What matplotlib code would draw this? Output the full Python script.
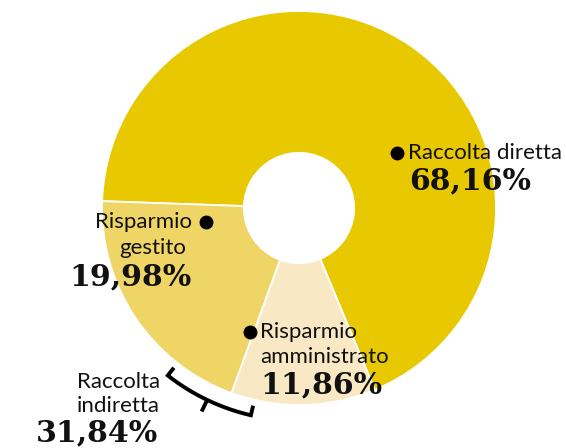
import numpy as np
import matplotlib.pyplot as plt

# composizione della raccolta (%)
labels = ['Raccolta diretta', 'Risparmio amministrato', 'Risparmio gestito']
values = [68.16, 11.86, 19.98]
colors = ['#e8c800', '#f8e9c4', '#efd466']
indiretta = values[1] + values[2]


def pct(v):
    return f'{v:.2f}'.replace('.', ',') + '%'


W, H = 566, 448
cx, cy, R = 299, 208, 197   # centre and radius of the ring, in pixels


def at(px, py):
    # pixel position -> data coords (ring radius = 1)
    return (px - cx) / R, (cy - py) / R


fig = plt.figure(figsize=(W / 100, H / 100), dpi=100)
ax = fig.add_axes([0, 0, 1, 1])

start = 178
ax.pie(values, colors=colors, startangle=start, counterclock=False, radius=1,
       wedgeprops=dict(width=0.72, edgecolor='white', linewidth=1.3))
ax.set_xlim(-cx / R, (W - cx) / R)
ax.set_ylim(-(H - cy) / R, cy / R)
ax.set_aspect('equal')
ax.axis('off')

# bracket grouping the two "indiretta" slices, straddling their common edge
b = np.deg2rad(start - (values[0] + values[1]) * 3.6)
lo, hi = b - np.deg2rad(18), b + np.deg2rad(7)
mid = (lo + hi) / 2
rb, rin, rout = 1.08, 1.03, 1.145
t = np.linspace(lo, hi, 80)
bx = np.concatenate([[rin * np.cos(lo)], rb * np.cos(t), [rin * np.cos(hi)]])
by = np.concatenate([[rin * np.sin(lo)], rb * np.sin(t), [rin * np.sin(hi)]])
ax.plot(bx, by, color='black', lw=2.8, solid_joinstyle='miter', solid_capstyle='butt')
ax.plot([rb * np.cos(mid), rout * np.cos(mid)], [rb * np.sin(mid), rout * np.sin(mid)],
        color='black', lw=2.8, solid_capstyle='butt')

name_font = dict(family='Lato', fontsize=16, color='#111111')
num_font = dict(family='DejaVu Serif', fontweight='bold', fontsize=21.5, color='#111111')
dot = dict(marker='o', ms=9, color='black', ls='none')

# Raccolta diretta
ax.plot(*at(397, 153), **dot)
ax.text(*at(408, 153), labels[0], ha='left', va='center', **name_font)
ax.text(*at(409, 181), pct(values[0]), ha='left', va='center', **num_font)

# Risparmio gestito
ax.plot(*at(206, 222), **dot)
ax.text(*at(192, 222), 'Risparmio', ha='right', va='center', **name_font)
ax.text(*at(153, 248), 'gestito', ha='center', va='center', **name_font)
ax.text(*at(192, 277), pct(values[2]), ha='right', va='center', **num_font)

# Risparmio amministrato
ax.plot(*at(250, 332), **dot)
ax.text(*at(260, 332), 'Risparmio', ha='left', va='center', **name_font)
ax.text(*at(260, 357), 'amministrato', ha='left', va='center', **name_font)
ax.text(*at(260, 385), pct(values[1]), ha='left', va='center', **num_font)

# Raccolta indiretta
ax.text(*at(160, 382), 'Raccolta', ha='right', va='center', **name_font)
ax.text(*at(160, 406), 'indiretta', ha='right', va='center', **name_font)
ax.text(*at(158, 433), pct(indiretta), ha='right', va='center', **num_font)

fig.savefig('out.png', dpi=100)
